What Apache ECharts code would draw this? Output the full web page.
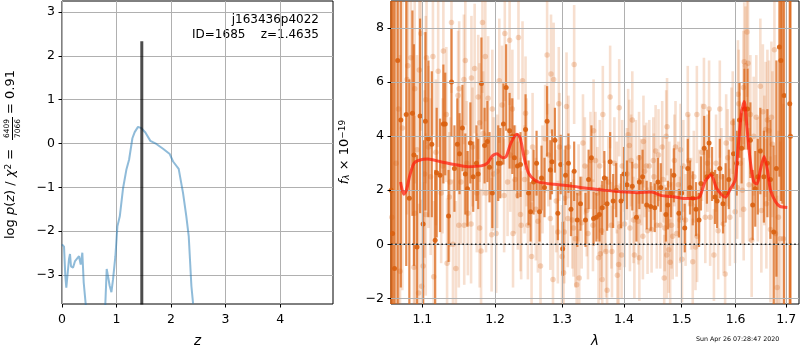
<!DOCTYPE html>
<html><head><meta charset="utf-8">
<style>html,body{margin:0;padding:0;background:#fff}#c{width:800px;height:350px}</style>
<script src="https://cdn.jsdelivr.net/npm/echarts@6/dist/echarts.min.js"></script>
</head><body><div id="c"></div>
<script>
const pzTicksX=[0,1,2,3,4];
const pzTicksY=[-3,-2,-1,0,1,2,3];
const specTicksX=[1.1,1.2,1.3,1.4,1.5,1.6,1.7];
const specTicksY=[-2,0,2,4,6,8];
const pzZ=[0,0.018,0.037,0.061,0.079,0.104,0.128,0.147,0.165,0.202,0.239,0.275,0.312,0.343,0.373,0.398,0.434,0.5,0.75,0.795,0.82,0.845,0.875,0.906,0.936,0.979,1.016,1.06,1.12,1.18,1.23,1.291,1.333,1.394,1.455,1.529,1.62,1.73,1.853,1.976,2.037,2.14,2.22,2.28,2.324,2.373,2.404];
const pzLogP=[-2.3,-2.27,-2.35,-3.02,-3.29,-3.33,-2.64,-2.52,-2.8,-2.83,-2.68,-2.68,-2.57,-2.76,-2.49,-3.17,-3.65,-6,-6,-3.65,-2.86,-2.84,-3.25,-3.39,-3.1,-2.57,-1.89,-1.66,-1.02,-0.6,-0.37,0.12,0.26,0.38,0.35,0.25,0.06,-0.01,-0.12,-0.24,-0.41,-0.58,-1.13,-1.66,-2.11,-3.25,-3.65];
const bestZ=[1.4635,1.4635];
const bestZY=[-3.67,2.33];

const darkLambda=[1.0597,1.0615,1.064,1.068,1.072,1.079,1.083,1.087,1.089,1.093,1.097,1.101,1.104,1.108,1.1125,1.117,1.119,1.1235,1.128,1.1305,1.135,1.139,1.143,1.147,1.15,1.154,1.158,1.161,1.165,1.169,1.1735,1.176,1.1805,1.185,1.189,1.192,1.196,1.2045,1.2075,1.212,1.216,1.221,1.225,1.228,1.2325,1.237,1.2445,1.249,1.252,1.2565,1.261,1.2655,1.2685,1.273,1.277,1.282,1.2845,1.289,1.2935,1.298,1.301,1.3055,1.31,1.314,1.319,1.324,1.329,1.337,1.342,1.3465,1.35,1.3545,1.3595,1.364,1.3675,1.372,1.377,1.382,1.387,1.395,1.4,1.405,1.414,1.421,1.426,1.4315,1.4385,1.4455,1.4525,1.458,1.463,1.472,1.4755,1.481,1.486,1.495,1.5,1.5055,1.511,1.515,1.52,1.526,1.5315,1.535,1.541,1.546,1.55,1.5555,1.561,1.565,1.57,1.576,1.581,1.587,1.596,1.602,1.6075,1.6115,1.617,1.623,1.6285,1.633,1.638,1.643,1.648,1.655,1.662,1.668,1.6745,1.68,1.686,1.689,1.692,1.6955,1.707,1.7085];
const darkFlux=[2,0.4,-0.9,6.8,4.6,4.8,1.7,4.85,3.3,-0.1,4.75,0.75,4.55,3.9,3.7,0.15,2.65,2.55,4.45,4.45,1.05,6,2.8,3.7,3.35,4.3,2.6,2.05,3.75,2.5,3,2.6,5.95,3.65,3.8,2.85,1.9,3,3,4.45,5.8,4.2,4,3.2,2.9,2.95,4.25,1.9,1.2,2.3,3,1.2,2.45,2.1,4.55,2.75,3.05,3.85,1.15,2.95,-0.17,2.55,3,1.3,2.7,0.9,1.5,0.9,2.4,3.2,0.95,1,1.1,1.35,2.45,1.5,3.05,1.6,2,1.6,2.6,2.2,2.15,1,2.3,2.5,1.45,1.4,1.35,2.3,2.1,1.1,1.45,1.9,2.55,1.15,1.9,0.6,2.8,2.1,1.7,1.3,0.9,2.25,3.55,2.5,3.75,2.6,1.75,1.6,2.8,1.5,1.9,2.4,3.35,3,4.6,3.55,5,5,3.85,1.45,2.05,2.5,3.45,2.5,3,2.4,0.45,2.8,7.3,6.8,9.5,5.5,5.2,4];
const darkError=[14,13,11,9,6.2,5.6,4.4,3.8,4.1,3.4,3.6,3.1,3.3,2.9,2.7,2.6,2.4,2.1,2.2,1.9,1.7,2,1.6,1.7,1.5,1.6,1.5,1.4,1.5,1.3,1.4,1.3,1.7,1.4,1.5,1.3,1.3,1.4,1.3,1.5,1.6,1.4,1.4,1.2,1.2,1.2,1.3,1.2,1.1,1.2,1.2,1.1,1.2,1.1,1.3,1.1,1.2,1.2,1,1.1,1,1.1,1.1,1,1.1,1,1,1,1.1,1.2,1,0.9,1,1,1,1,1.1,1,1,1,1,0.9,0.9,0.9,1,1,0.9,0.9,0.9,0.9,0.9,1,0.9,0.9,1,0.9,1,0.9,1.1,1,1,1,1,1,1.2,1,1.2,1,1,1,1.1,1.1,1.1,1.1,1.3,1.2,1.4,1.3,1.5,1.5,1.4,1.3,1.4,1.4,1.6,1.7,2,2.2,3.2,4,4.8,5.2,8,10,11,13];

const lightLambda=[1.0605,1.063,1.066,1.069,1.071,1.074,1.081,1.08,1.085,1.09,1.096,1.098,1.1045,1.1055,1.114,1.121,1.128,1.132,1.139,1.148,1.1495,1.156,1.158,1.1665,1.171,1.176,1.178,1.182,1.186,1.19,1.196,1.206,1.21,1.214,1.221,1.225,1.234,1.24,1.2445,1.277,1.283,1.287,1.295,1.307,
1.09,1.089,1.095,1.099,1.101,1.1045,1.115,1.133,1.141,1.145,1.149,1.1565,1.1615,1.166,1.178,1.18,1.195,1.2015,1.226,1.237,1.238,1.248,1.2535,1.267,1.263,1.282,1.286,1.2935,1.3,1.3035,1.3025,1.309,
1.093,1.103,1.108,1.111,1.118,1.125,1.127,1.136,1.137,1.152,1.16,1.168,1.174,1.183,1.187,1.198,1.203,1.213,1.218,1.222,1.229,1.233,1.243,1.246,1.255,1.26,1.27,1.274,1.279,1.291,1.296,1.304,1.31,
1.319,1.323,1.327,1.318,1.333,1.339,1.35,1.358,1.361,1.364,1.365,1.37,1.372,1.377,1.38,1.389,1.391,1.392,1.396,1.407,1.409,1.414,1.4175,1.426,1.433,1.4255,1.438,1.45,1.454,1.4655,1.469,1.4725,1.474,1.477,1.4735,1.4795,1.484,1.489,1.498,1.5005,1.511,1.52,1.525,1.5275,1.5405,1.55,1.559,1.57,1.58,1.582,1.5945,1.6045,1.606,1.615,1.6165,1.619,1.624,1.622,1.6155,1.6285,1.631,1.64,1.648,1.65,1.653,1.6585,1.662,1.67,1.668,1.676,1.6815,1.694,
1.316,1.321,1.326,1.331,1.336,1.341,1.345,1.349,1.353,1.356,1.36,1.363,1.368,1.374,1.379,1.384,1.388,1.393,1.397,1.401,1.405,1.41,1.412,1.416,1.42,1.424,1.429,1.432,1.435,1.44,1.443,1.447,1.451,1.456,1.459,1.462,1.467,1.47,1.478,1.482,1.487,1.491,1.494,1.497,1.503,1.507,1.513,1.517,1.522,1.528,1.532,1.537,1.543,1.547,1.552,1.563,1.567,1.573,1.577,1.585,1.589,1.592,1.599,1.603,1.609,1.613,1.626,1.635,1.643,1.656,1.66,1.665,1.672,1.678,1.684,1.688];
const lightFlux=[1,-3,3,5,-1,4.3,6.6,6.1,6.9,5.75,6.45,7.8,5.35,6.9,6.95,6.4,7.15,4.8,8.2,5.5,5.75,6.1,6.8,6.15,6.5,5.45,4.5,8.2,6.95,5.4,5,6.05,5.15,7.8,7.55,5,7.65,6.05,4.85,7,6.3,6.1,5.2,5.1,
1.15,-0.85,-1.8,-1.55,-0.8,1.1,-1.2,-0.7,0,-0.9,0.7,0.7,1.15,0.75,0.6,-0.25,0.35,0.4,0.4,1.1,0.7,0.7,-0.45,-0.8,0.85,0.95,-1.3,0.45,-0.45,0.45,-1.05,0.95,
3.5,2.6,3.6,2.5,3.4,1.9,2.9,1.75,2.3,2.3,3,3.6,1.9,4.1,1.9,2.6,2.7,1.8,2.3,3.3,2.4,1.8,2.4,3.4,3.6,1.3,2.4,3.9,3.3,1.6,3.6,1.7,3.6,
6.65,-1.5,-1.25,0.6,3.75,1.25,4.2,-0.5,-0.35,-1.3,4.8,-0.27,-1.7,5.45,-0.27,-1.15,-0.75,5.05,-0.4,4.05,3.65,4.6,-0.4,-0.5,3.8,3.2,2.9,3.1,3.45,3.6,-1.25,4,4.35,-0.2,-0.4,-0.67,0.3,3.6,3.5,-0.55,4.8,-0.65,-0.1,4.8,5.1,5,-0.4,5,-1.1,3.75,4.5,5.55,5.2,5.8,6.75,6.6,6.7,7.85,1.3,4.8,0.15,4.7,5.85,1.25,4.9,4.25,4.6,4.7,0.55,7.2,-1.6,0.2,
0.9,0.2,1.9,0.8,2.9,0.4,3.1,0.7,3.1,1.9,2.9,0.5,1.4,2.3,0.7,3,2.1,0.65,2.9,0.75,2.6,0.6,3.1,0.9,2.9,0.85,2.3,0.3,2.7,0.5,2.9,0.55,2.5,0.7,3.3,0.7,2.4,0.6,2.2,0.7,3.1,0.4,2.2,0.9,2.9,0.9,3.1,1.5,2.5,0.3,1.8,3.4,1,3,1,3,0.5,2.5,0.75,3.2,1,3.9,1.2,2.1,3,2,2.2,4,2.4,3.1,1.5,4.2,3.7,0.4,1,0.2];
const lightError=[14,13,12,10,8,6,4.5,5,4,3.5,3.4,3.6,3.1,3.2,2.9,2.8,2.8,2.5,2.6,2.4,2.5,2.4,2.4,2.3,2.4,2.3,2.2,2.6,2.4,2.3,2.2,2.3,2.2,2.5,2.4,2.2,2.3,2.2,2.1,2.2,2.2,2.1,2.1,2,
3.6,3.7,3.3,3.2,3.1,3,2.8,2.4,2.4,2.5,2.3,2.2,2.3,2.2,2.2,2.3,2.1,2.2,2,2.1,2,2,2,2,1.9,1.9,2,1.9,1.9,1.9,1.9,1.8,
3.5,3.1,3,2.9,2.7,2.6,2.5,2.4,2.4,2.3,2.3,2.2,2.2,2.3,2.2,2.1,2.1,2.1,2,2.1,2,2,2,2,2,1.9,2,2,1.9,1.9,2,1.8,1.9,
2.2,1.8,1.8,1.8,1.8,1.7,1.9,1.7,1.7,1.7,1.8,1.7,1.7,1.9,1.7,1.7,1.6,1.8,1.6,1.7,1.7,1.8,1.6,1.6,1.7,1.7,1.6,1.6,1.7,1.7,1.6,1.7,1.8,1.6,1.6,1.6,1.6,1.7,1.7,1.6,1.8,1.6,1.6,1.8,1.8,1.8,1.7,1.8,1.8,1.8,1.9,2,2,2.1,2.2,2.2,2.3,2.4,1.9,2.2,2.1,2.3,2.5,2.3,2.5,2.5,2.6,2.8,2.7,3.2,3.4,5,
1.8,1.8,1.8,1.7,1.8,1.7,1.8,1.7,1.8,1.7,1.7,1.7,1.7,1.7,1.6,1.7,1.7,1.6,1.7,1.6,1.7,1.6,1.7,1.6,1.7,1.6,1.6,1.6,1.7,1.6,1.7,1.6,1.6,1.6,1.7,1.6,1.6,1.6,1.6,1.6,1.7,1.6,1.6,1.6,1.7,1.7,1.7,1.7,1.7,1.7,1.7,1.8,1.7,1.8,1.8,1.8,1.8,1.8,1.8,1.8,1.8,1.9,1.9,1.9,2,2,2.1,2.2,2.3,2.4,2.4,2.6,2.7,2.9,3.2,3.6];

const modelLambda=[1.0717,1.0757,1.0792,1.0836,1.089,1.0947,1.107,1.1245,1.143,1.1616,1.18,1.189,1.196,1.2025,1.211,1.216,1.223,1.2317,1.2366,1.242,1.249,1.258,1.268,1.288,1.312,1.3405,1.3676,1.3946,1.4234,1.4468,1.4643,1.482,1.5055,1.524,1.533,1.5426,1.5536,1.564,1.5735,1.581,1.5905,1.5994,1.6045,1.611,1.6166,1.6217,1.628,1.635,1.6414,1.648,1.6555,1.662,1.668,1.678,1.687,1.702];
const modelFlux=[2.3,1.85,2,2.55,3,3.1,3.15,3.05,2.95,2.87,2.9,3,3.27,3.35,3.2,3.25,3.75,4.07,3.93,3.25,2.63,2.38,2.28,2.22,2.16,2.07,2,1.94,1.91,1.93,1.8,1.77,1.69,1.69,1.77,2.32,2.57,2.07,1.83,1.74,2.07,2.38,3.5,4.85,5.28,4.35,3.12,2.32,2.23,2.75,3.25,2.75,2.01,1.58,1.4,1.36];
const zeroLambda=[1.0595,1.726];
const zeroFlux=[0,0];

const FONT='"DejaVu Sans"';
const ORANGE='#d95f0e';
const MINUS=s=>String(s).replace('-','\u2212');
const lg=Math.log10;
const rows=(l,f,e)=>l.map((v,i)=>[lg(v),f[i],e?e[i]:0]);

function errSeries(l,f,e,op,zv,w){
  return {type:'custom',xAxisIndex:1,yAxisIndex:1,z:zv,silent:true,
    data:rows(l,f,e),
    renderItem:(p,api)=>{
      const x=api.value(0),y=api.value(1),er=api.value(2);
      const pts=echarts.graphic.clipPointsByRect([api.coord([x,y-er]),api.coord([x,y+er])],p.coordSys);
      return {type:'line',shape:{x1:pts[0][0],y1:pts[0][1],x2:pts[1][0],y2:pts[1][1]},
        style:{stroke:ORANGE,lineWidth:w,opacity:op}};
    }};
}
function dotSeries(l,f,op,zv,sz){
  return {type:'scatter',xAxisIndex:1,yAxisIndex:1,z:zv,silent:true,symbolSize:sz,
    data:l.map((v,i)=>[lg(v),f[i]]),itemStyle:{color:ORANGE,opacity:op}};
}
const axisBase={axisLine:{show:false,onZero:false},axisTick:{show:true,length:3.5,lineStyle:{color:'#000',width:1}},
  splitLine:{show:true,lineStyle:{color:'#b0b0b0',width:1}}};
const labelBase={color:'#000',fontFamily:FONT,fontSize:12.5};
function axisX(idx,o){return Object.assign({type:'value',gridIndex:idx,z:3,nameLocation:'middle',nameGap:30,
  nameTextStyle:{fontFamily:FONT,fontSize:13.5,fontStyle:'italic',color:'#000'}},axisBase,o);}

const texts=[
 {type:'text',x:319,y:20,style:{text:'j163436p4022',font:'12px '+FONT,fill:'#000',textAlign:'right',textVerticalAlign:'middle'}},
 {type:'text',x:319,y:35,style:{text:'ID=1685    z=1.4635',font:'12px '+FONT,fill:'#000',textAlign:'right',textVerticalAlign:'middle'}},
 {type:'text',x:696,y:339,style:{text:'Sun Apr 26 07:28:47 2020',font:'6.3px '+FONT,fill:'#000',textAlign:'left',textVerticalAlign:'middle'}},
 {type:'text',x:11,y:239,rotation:Math.PI/2,style:{text:'log {i|p}({i|z}) / {i|\u03c7}{s|2} =',fontFamily:FONT,fontSize:13,fill:'#000',textAlign:'left',textVerticalAlign:'middle',
   rich:{i:{fontFamily:FONT,fontSize:13,fontStyle:'italic',fill:'#000'},s:{fontFamily:FONT,fontSize:9,verticalAlign:'top',fill:'#000'}}}},
 {type:'text',x:7,y:128.5,rotation:Math.PI/2,style:{text:'6409',font:'7.5px '+FONT,fill:'#000',textAlign:'center',textVerticalAlign:'middle'}},
 {type:'text',x:18,y:128.5,rotation:Math.PI/2,style:{text:'7066',font:'7.5px '+FONT,fill:'#000',textAlign:'center',textVerticalAlign:'middle'}},
 {type:'line',shape:{x1:12.5,y1:117,x2:12.5,y2:140},style:{stroke:'#000',lineWidth:1}},
 {type:'text',x:11,y:114,rotation:Math.PI/2,style:{text:'= 0.91',font:'13px '+FONT,fill:'#000',textAlign:'left',textVerticalAlign:'middle'}},
 {type:'text',x:345,y:152,rotation:Math.PI/2,style:{text:'{i|f}{b|\u03bb} \u00d7 10{s|\u221219}',fontFamily:FONT,fontSize:13,fill:'#000',textAlign:'center',textVerticalAlign:'middle',
   rich:{i:{fontFamily:FONT,fontSize:13,fontStyle:'italic',fill:'#000'},b:{fontFamily:FONT,fontSize:9,fontStyle:'italic',verticalAlign:'bottom',fill:'#000'},s:{fontFamily:FONT,fontSize:9,verticalAlign:'top',fill:'#000'}}}}
];

const chart=echarts.init(document.getElementById('c'),null,{renderer:'canvas'});
chart.setOption({
 animation:false,
 backgroundColor:'#fff',
 grid:[
  {left:62,top:1,width:271,height:303,outerBoundsMode:'none',show:true,borderColor:'#000',borderWidth:1,backgroundColor:'transparent'},
  {left:391,top:1,width:408,height:303,outerBoundsMode:'none',show:true,borderColor:'#000',borderWidth:1,backgroundColor:'transparent'}
 ],
 xAxis:[
  axisX(0,{min:0,max:4.97,name:'z',
    axisTick:Object.assign({},axisBase.axisTick,{customValues:pzTicksX}),
    axisLabel:Object.assign({},labelBase,{customValues:pzTicksX,margin:9,formatter:v=>String(v)})}),
  axisX(1,{min:lg(1.0595),max:lg(1.726),name:'\u03bb',
    axisTick:Object.assign({},axisBase.axisTick,{customValues:specTicksX.map(lg)}),
    axisLabel:Object.assign({},labelBase,{customValues:specTicksX.map(lg),margin:9,formatter:v=>Math.pow(10,v).toFixed(1)})})
 ],
 yAxis:[
  Object.assign({type:'value',gridIndex:0,z:3,min:-3.66,max:3.25},axisBase,{
    axisTick:Object.assign({},axisBase.axisTick,{customValues:pzTicksY}),
    axisLabel:Object.assign({},labelBase,{customValues:pzTicksY,margin:7,formatter:MINUS})}),
  Object.assign({type:'value',gridIndex:1,z:3,min:-2.21,max:9},axisBase,{
    axisTick:Object.assign({},axisBase.axisTick,{customValues:specTicksY}),
    axisLabel:Object.assign({},labelBase,{customValues:specTicksY,margin:7,formatter:MINUS})})
 ],
 graphic:{elements:texts},
 series:[
  {type:'line',xAxisIndex:0,yAxisIndex:0,z:4,silent:true,showSymbol:false,symbol:'none',clip:true,
   data:pzZ.map((v,i)=>[v,pzLogP[i]]),lineStyle:{color:'#1f77b4',opacity:0.5,width:2}},
  {type:'line',xAxisIndex:0,yAxisIndex:0,z:5,silent:true,showSymbol:false,symbol:'none',
   data:bestZ.map((v,i)=>[v,bestZY[i]]),lineStyle:{color:'#000',opacity:0.7,width:3}},
  errSeries(lightLambda,lightFlux,lightError,0.2,1,2.6),
  dotSeries(lightLambda,lightFlux,0.25,1,5.5),
  errSeries(darkLambda,darkFlux,darkError,0.72,2,2.2),
  dotSeries(darkLambda,darkFlux,0.9,2,5),
  {type:'line',xAxisIndex:1,yAxisIndex:1,z:6,silent:true,showSymbol:false,symbol:'none',smooth:0.25,
   data:modelLambda.map((v,i)=>[lg(v),modelFlux[i]]),lineStyle:{color:'#ff1a0a',opacity:0.72,width:3}},
  {type:'line',xAxisIndex:1,yAxisIndex:1,z:7,silent:true,showSymbol:false,symbol:'none',
   data:zeroLambda.map((v,i)=>[lg(v),zeroFlux[i]]),lineStyle:{color:'#000',width:1.6,type:[1.6,2.6],opacity:0.85}}
 ]
});
</script></body></html>
